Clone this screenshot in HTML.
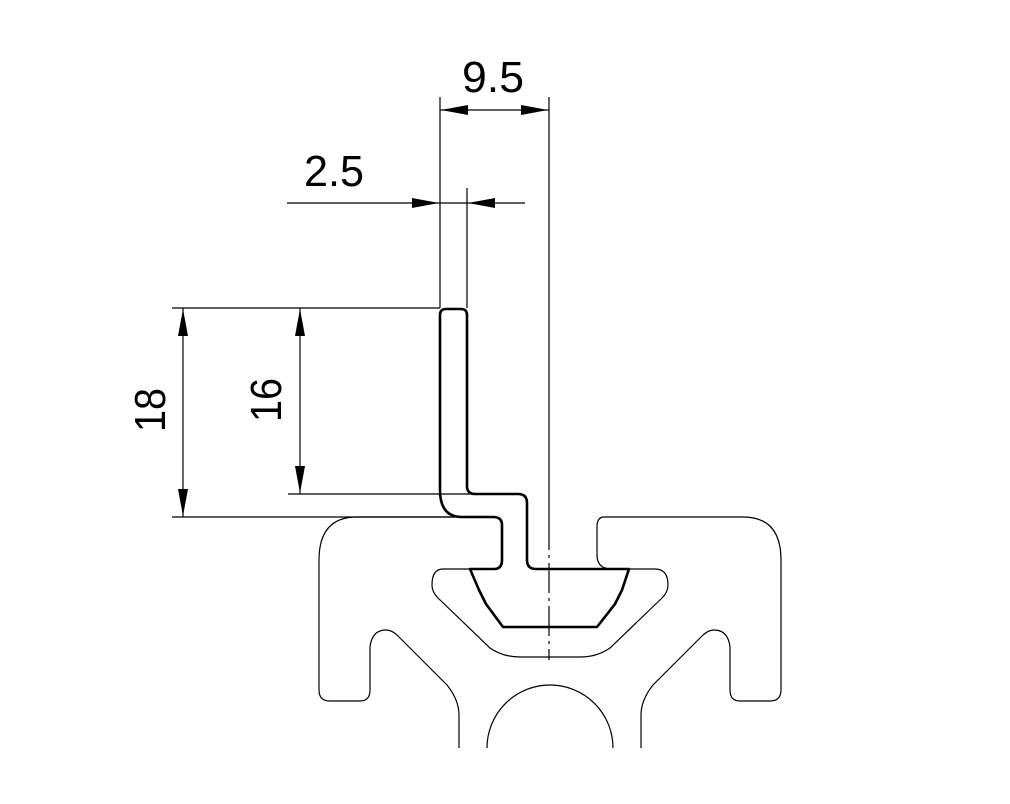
<!DOCTYPE html>
<html><head><style>html,body{margin:0;padding:0;background:#fff}svg{display:block}</style></head>
<body>
<svg width="1010" height="804" viewBox="0 0 1010 804" xmlns="http://www.w3.org/2000/svg">
<g fill="none" stroke="#000" stroke-width="1.2">
<!-- extension lines -->
<line x1="440" y1="97" x2="440" y2="308"/>
<line x1="467" y1="188" x2="467" y2="308"/>
<line x1="549" y1="97" x2="549" y2="520"/>
<line x1="549" y1="520" x2="549" y2="660" stroke-dasharray="30 5 3 5"/>
<line x1="172" y1="308" x2="440" y2="308"/>
<line x1="288" y1="494" x2="470" y2="494"/>
<line x1="172" y1="517" x2="455" y2="517"/>
<!-- dimension lines -->
<line x1="440" y1="110" x2="549" y2="110"/>
<line x1="287" y1="203" x2="525" y2="203"/>
<line x1="183" y1="308" x2="183" y2="517"/>
<line x1="300" y1="308" x2="300" y2="494"/>
<!-- profile -->
<path d="M455 517 L357 517 Q319 517 319 560 L319 690 Q319 701 330 701 L360 701 Q370 701 370 690 L370 647 Q372 630 386 630 Q392 630 398 636 L447 685 Q459 700 459 715 L459 748"/>
<path d="M487 748 A63 63 0 0 1 613 748"/>
<path d="M641 748 L641 715 Q641 700 653 685 L702 636 Q708 630 714 630 Q728 630 730 647 L730 690 Q730 701 740 701 L770 701 Q781 701 781 690 L781 560 Q781 517 743 517 L604 517 Q597 517 597 527 L597 555 Q597 569 612 569"/>
<path d="M470 569 L443 569 Q432 569 432 585 Q432 592 438 598 L490 648 Q503 657 520 657 L580 657 Q597 657 610 648 L662 598 Q668 592 668 585 Q668 569 655 569 L629 569"/>
</g>
<!-- clip (thick) -->
<path fill="none" stroke="#000" stroke-width="2.6" stroke-linejoin="round" d="M446 309 L461 309 Q467 309 467 315 L467 486 Q467 494 475 494 L518 494 Q527 494 527 503 L527 560 Q527 569 536 569 L629 569 L622 590 L615 604 L597 627 L503 627 L486 604 L479 590 L470 569 L494 569 Q502 569 502 560 L502 525 Q502 517 493 517 L462 517 Q440 517 440 490 L440 315 Q440 309 446 309 Z"/>
<!-- arrowheads -->
<g fill="#000">
<polygon points="441,110 468,105 468,115"/>
<polygon points="548,110 521,105 521,115"/>
<polygon points="439,203 412,198 412,208"/>
<polygon points="468,203 495,198 495,208"/>
<polygon points="183,309 178,336 188,336"/>
<polygon points="183,516 178,489 188,489"/>
<polygon points="300,309 295,336 305,336"/>
<polygon points="300,493 295,466 305,466"/>
</g>
<g font-family="Liberation Sans, sans-serif" font-size="44" fill="#000" font-weight="normal">
<text x="462" y="92" textLength="62" lengthAdjust="spacingAndGlyphs">9.5</text>
<text x="304" y="186" textLength="60" lengthAdjust="spacingAndGlyphs">2.5</text>
<text transform="translate(165,432) rotate(-90)" textLength="44" lengthAdjust="spacingAndGlyphs">18</text>
<text transform="translate(281,422) rotate(-90)" textLength="44" lengthAdjust="spacingAndGlyphs">16</text>
</g>
</svg>
</body></html>
